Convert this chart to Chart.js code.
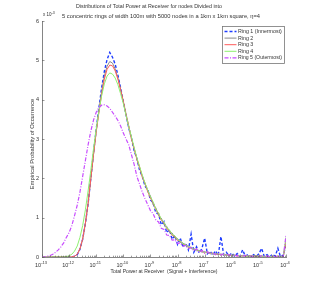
<!DOCTYPE html>
<html>
<head>
<meta charset="utf-8">
<script src="https://cdn.jsdelivr.net/npm/chart.js"></script>
<style>
  html, body { margin: 0; padding: 0; background: #fff; }
  #wrap { width: 316px; height: 289px; }
</style>
</head>
<body>
<div id="wrap"><canvas id="powerChart" width="316" height="289"></canvas></div>
<script>
// Distribution of total received power, 5 rings (values in units of 1e-3)
const titleLines = [
  'Distributions of Total Power at Receiver for nodes Divided into',
  '5 concentric rings of width 100m with 5000 nodes in a 1km x 1km square, \u03b7=4'
];
const xLabel = 'Total Power at Receiver  (Signal + Interference)';
const yLabel = 'Empirical Probability of Occurrence';
const ringNames = ['Ring 1 (Innermost)', 'Ring 2', 'Ring 3', 'Ring 4', 'Ring 5 (Outermost)'];
const xTickExp = [-13, -12, -11, -10, -9, -8, -7, -6, -5, -4];
const yTickVals = [0, 1, 2, 3, 4, 5, 6];

// log10 of the bin centre
const powerLog = [
  -13.0,-12.9,-12.8,-12.7,-12.6,-12.5,-12.4,-12.3,-12.2,-12.1,
  -12.0,-11.9,-11.8,-11.7,-11.6,-11.5,-11.4,-11.3,-11.2,-11.1,
  -11.0,-10.9,-10.8,-10.7,-10.6,-10.5,-10.4,-10.3,-10.2,-10.1,
  -10.0,-9.9,-9.8,-9.7,-9.6,-9.5,-9.4,-9.3,-9.2,-9.1,
  -9.0,-8.9,-8.8,-8.7,-8.6,-8.5,-8.4,-8.3,-8.2,-8.1,
  -8.0,-7.9,-7.8,-7.7,-7.6,-7.5,-7.4,-7.3,-7.2,-7.1,
  -7.0,-6.9,-6.8,-6.7,-6.6,-6.5,-6.4,-6.3,-6.2,-6.1,
  -6.0,-5.9,-5.8,-5.7,-5.6,-5.5,-5.4,-5.3,-5.2,-5.1,
  -5.0,-4.9,-4.8,-4.7,-4.6,-4.5,-4.4,-4.3,-4.2,-4.1,
  -4.0
];

const ring1 = [
  0,0,0,0,0,0,0,0,0,0,
  0,0,0.02,0.06,0.2,0.45,0.85,1.35,2.0,2.65,
  3.25,3.8,4.3,4.72,5.02,5.2,5.08,4.9,4.62,4.3,
  3.95,3.62,3.28,3.02,2.7,2.5,2.2,2.05,1.8,1.72,
  1.45,1.38,1.12,1.1,0.82,0.9,0.62,0.7,0.45,0.55,
  0.32,0.48,0.25,0.35,0.18,0.58,0.12,0.26,0.1,0.22,
  0.48,0.08,0.15,0.05,0.16,0.04,0.52,0.06,0.12,0.03,
  0.1,0.02,0.09,0.01,0.18,0.02,0.07,0,0.06,0.01,
  0.08,0.22,0.01,0.06,0,0.07,0.02,0.22,0,0.05,
  0.3
];
const ring2 = [
  0,0,0,0,0,0,0,0,0,0,
  0,0,0.02,0.07,0.2,0.45,0.85,1.35,1.98,2.6,
  3.2,3.72,4.2,4.6,4.85,4.97,4.93,4.78,4.55,4.27,
  3.95,3.63,3.32,3.02,2.75,2.5,2.27,2.05,1.86,1.68,
  1.55,1.33,1.25,1.05,0.99,0.82,0.78,0.63,0.61,0.48,
  0.47,0.37,0.36,0.28,0.28,0.21,0.22,0.16,0.17,0.12,
  0.14,0.1,0.11,0.07,0.09,0.05,0.08,0.05,0.06,0.04,
  0.05,0.03,0.04,0.02,0.04,0.02,0.03,0.02,0.03,0.01,
  0.02,0.03,0.01,0.02,0.01,0.02,0.01,0.02,0.01,0.01,
  0.35
];
const ring3 = [
  0,0,0,0,0,0,0,0,0,0,
  0,0,0.02,0.07,0.21,0.46,0.86,1.36,1.99,2.6,
  3.18,3.68,4.14,4.52,4.77,4.88,4.86,4.73,4.52,4.25,
  3.96,3.62,3.33,3.0,2.76,2.48,2.29,2.03,1.88,1.66,
  1.5,1.38,1.2,1.1,0.93,0.88,0.72,0.68,0.55,0.53,
  0.42,0.41,0.32,0.32,0.24,0.25,0.18,0.2,0.13,0.16,
  0.1,0.13,0.08,0.1,0.06,0.08,0.05,0.07,0.04,0.06,
  0.03,0.05,0.02,0.04,0.02,0.04,0.01,0.03,0.01,0.03,
  0.01,0.02,0.01,0.02,0,0.02,0.01,0.02,0.01,0.02,
  0.4
];
const ring4 = [
  0,0,0,0,0,0,0,0,0,0.01,
  0.03,0.07,0.15,0.28,0.5,0.8,1.2,1.68,2.2,2.75,
  3.25,3.7,4.1,4.4,4.6,4.68,4.65,4.55,4.38,4.15,
  3.9,3.6,3.32,3.05,2.78,2.52,2.3,2.08,1.88,1.7,
  1.53,1.4,1.21,1.12,0.95,0.88,0.74,0.69,0.57,0.54,
  0.44,0.41,0.33,0.32,0.25,0.25,0.19,0.2,0.14,0.16,
  0.11,0.13,0.08,0.1,0.06,0.09,0.05,0.07,0.04,0.06,
  0.03,0.05,0.03,0.04,0.02,0.04,0.01,0.03,0.02,0.03,
  0.01,0.02,0.01,0.02,0.01,0.02,0.01,0.02,0.01,0.01,
  0.5
];
const ring5 = [
  0,0,0.02,0.04,0.07,0.12,0.18,0.26,0.36,0.5,
  0.62,0.8,1.05,1.32,1.65,2.05,2.45,2.85,3.2,3.48,
  3.68,3.8,3.86,3.87,3.84,3.78,3.68,3.58,3.47,3.33,
  3.15,3.0,2.85,2.6,2.35,2.05,1.85,1.65,1.48,1.33,
  1.18,1.1,0.94,0.89,0.73,0.7,0.56,0.55,0.43,0.44,
  0.34,0.36,0.27,0.3,0.21,0.24,0.16,0.21,0.12,0.17,
  0.1,0.13,0.08,0.11,0.06,0.09,0.05,0.08,0.04,0.06,
  0.03,0.05,0.03,0.04,0.02,0.04,0.02,0.03,0.01,0.03,
  0.01,0.03,0.01,0.02,0.01,0.02,0.01,0.02,0.01,0.01,
  0.55
];

const ringValues = [ring1, ring2, ring3, ring4, ring5];
const ringStyles = [
  { color: '#1f3dff', dash: [3, 2], width: 1.4 },
  { color: '#8a8a8a', dash: [], width: 1 },
  { color: '#ff5a5a', dash: [], width: 1 },
  { color: '#8ef070', dash: [], width: 1 },
  { color: '#c84cff', dash: [4, 1.5, 1, 1.5], width: 1.2 }
];

const FONT = '"Liberation Sans", Arial, sans-serif';

const decor = {
  id: 'decor',
  afterDraw(chart) {
    const { ctx, chartArea: a, scales: { x, y } } = chart;
    ctx.save();
    ctx.strokeStyle = '#555';
    ctx.lineWidth = 0.6;
    // inward ticks
    yTickVals.forEach(v => {
      const py = Math.round(y.getPixelForValue(v)) + 0.5;
      ctx.beginPath(); ctx.moveTo(a.left, py); ctx.lineTo(a.left + 2.5, py); ctx.stroke();
    });
    xTickExp.forEach(e => {
      const px = Math.round(x.getPixelForValue(Math.pow(10, e))) + 0.5;
      ctx.beginPath(); ctx.moveTo(px, a.bottom); ctx.lineTo(px, a.bottom - 2.5); ctx.stroke();
      if (e < -4) {
        for (let k = 2; k <= 9; k++) {
          const mx = Math.round(x.getPixelForValue(k * Math.pow(10, e))) + 0.5;
          ctx.beginPath(); ctx.moveTo(mx, a.bottom); ctx.lineTo(mx, a.bottom - 1.3); ctx.stroke();
        }
      }
    });

    ctx.fillStyle = '#333';
    // x tick labels 10^e
    xTickExp.forEach(e => {
      const px = x.getPixelForValue(Math.pow(10, e));
      ctx.font = '5.5px ' + FONT;
      const wb = ctx.measureText('10').width;
      ctx.font = '4px ' + FONT;
      const ws = ctx.measureText(String(e)).width;
      const start = px - (wb + ws) / 2 - 1;
      ctx.textAlign = 'left'; ctx.textBaseline = 'middle';
      ctx.font = '5.5px ' + FONT;
      ctx.fillText('10', start, a.bottom + 8);
      ctx.font = '4px ' + FONT;
      ctx.fillText(String(e), start + wb, a.bottom + 5.5);
    });

    // exponent of y axis
    ctx.font = '4.5px ' + FONT;
    ctx.fillText('x 10', a.left + 1, a.top - 6);
    const wx = ctx.measureText('x 10').width;
    ctx.font = '3.6px ' + FONT;
    ctx.fillText('-3', a.left + 1 + wx, a.top - 8);

    // title
    ctx.textAlign = 'center';
    ctx.font = '5.8px ' + FONT;
    ctx.fillText(titleLines[0], 149, 6, 146);
    ctx.fillText(titleLines[1], 161, 16, 198);

    // axis labels
    ctx.fillText(xLabel, 164, 271, 107);
    ctx.save();
    ctx.translate(32, 144);
    ctx.rotate(-Math.PI / 2);
    ctx.fillText(yLabel, 0, 0, 106);
    ctx.restore();

    // legend
    const lx = 222.5, ly = 26.5, lw = 62, lh = 37;
    ctx.fillStyle = '#fff';
    ctx.fillRect(lx, ly, lw, lh);
    ctx.strokeStyle = '#777';
    ctx.lineWidth = 0.8;
    ctx.strokeRect(lx, ly, lw, lh);
    ctx.textAlign = 'left';
    ctx.font = '5.3px ' + FONT;
    chart.data.datasets.forEach((ds, i) => {
      const ey = ly + 5 + i * 6.6;
      ctx.strokeStyle = ds.borderColor;
      ctx.lineWidth = ds.borderWidth;
      ctx.setLineDash(ds.borderDash);
      ctx.beginPath(); ctx.moveTo(lx + 2, ey); ctx.lineTo(lx + 14, ey); ctx.stroke();
      ctx.setLineDash([]);
      ctx.fillStyle = '#333';
      ctx.fillText(ds.label, lx + 15.5, ey, 44);
    });
    ctx.restore();
  }
};

const datasets = ringValues.map((vals, i) => ({
  label: ringNames[i],
  data: powerLog.map((lg, j) => ({ x: Math.pow(10, lg), y: vals[j] })),
  borderColor: ringStyles[i].color,
  borderDash: ringStyles[i].dash,
  borderWidth: ringStyles[i].width,
  pointRadius: 0,
  tension: 0,
  fill: false,
  order: 5 - i
}));

new Chart(document.getElementById('powerChart').getContext('2d'), {
  type: 'line',
  data: { datasets: datasets },
  options: {
    responsive: false,
    animation: false,
    layout: { padding: { left: 0, top: 21, right: 30, bottom: 0 } },
    plugins: {
      legend: { display: false },
      tooltip: { enabled: false },
      title: { display: false }
    },
    scales: {
      x: {
        type: 'logarithmic',
        min: 1e-13,
        max: 1e-4,
        afterBuildTicks: s => { s.ticks = xTickExp.map(e => ({ value: Math.pow(10, e) })); },
        afterFit: s => { s.height = 32; },
        ticks: { display: false },
        grid: { display: false, drawTicks: false },
        border: { display: true, color: '#666', width: 0.8 }
      },
      y: {
        min: 0,
        max: 6,
        afterBuildTicks: s => { s.ticks = yTickVals.map(v => ({ value: v })); },
        afterFit: s => { s.width = 42; },
        ticks: { font: { size: 5.5, family: FONT }, color: '#333', padding: 3 },
        grid: { display: false, drawTicks: false },
        border: { display: true, color: '#666', width: 0.8 }
      }
    }
  },
  plugins: [decor]
});
</script>
</body>
</html>
